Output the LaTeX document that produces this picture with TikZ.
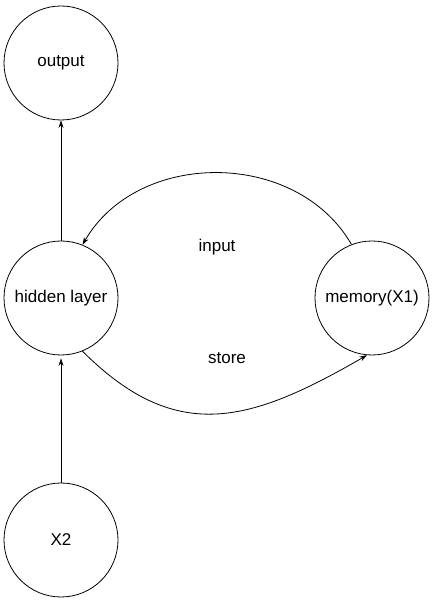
\documentclass[tikz,border=0pt]{standalone}
\usepackage{fontspec}
\setmainfont{Liberation Sans}
\usetikzlibrary{arrows.meta}

\begin{document}
\begin{tikzpicture}[x=1pt,y=1pt,
                unit/.style={draw,circle,line width=0.8pt,minimum size=114pt,inner sep=0pt,
                    font=\fontsize{17}{20}\selectfont},
                link/.style={line width=0.8pt,-{Stealth[length=7.5pt,width=5pt]}},
                tag/.style={font=\fontsize{17}{20}\selectfont}]
                \useasboundingbox (0,0) rectangle (439,604);
                \node[unit] (Out) at (61,541) {output};
                \node[unit] (Hid) at (61,306) {hidden layer};
                \node[unit] (Mem) at (372,306) {memory(X1)};
                \node[unit] (Xin) at (61,64) {X2};
                \draw[link] (Hid.north) -- (Out.south);
                \draw[link] (Xin.north) -- ([yshift=-3pt]Hid.south);
                \draw[link] (Mem.111) to[out=120,in=60,looseness=1.05] (Hid.68);
                \draw[link] (Hid.-68) to[out=-45,in=-150,looseness=1.2] (Mem.-95);
                %\draw[link] (Hid.east) -- (Mem.west);
                \node[tag] (In) at (217,357) {input};
                \node[tag] (St) at (227,246) {store};
            \end{tikzpicture}
\end{document}
